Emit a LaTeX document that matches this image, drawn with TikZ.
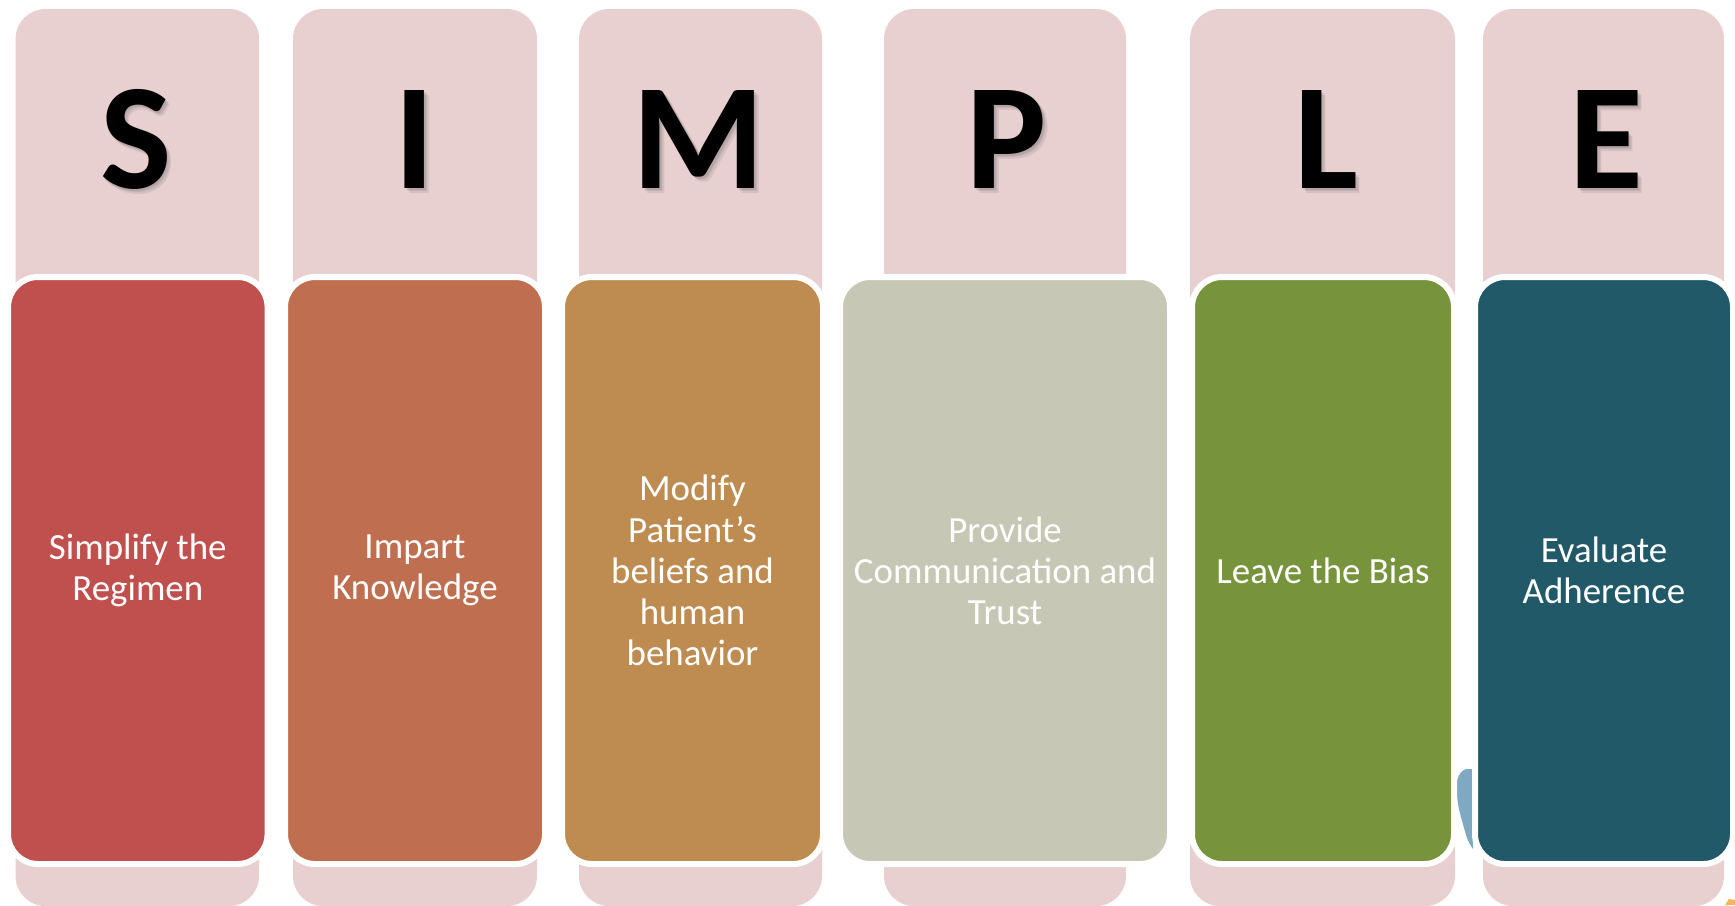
\documentclass[tikz,border=0pt]{standalone}
\usepackage{fontspec}
\setmainfont{Carlito}
\usepackage{tikz}

\definecolor{backpink}{HTML}{E8D0D1}
\definecolor{colS}{HTML}{C0504D}
\definecolor{colI}{HTML}{BF6F50}
\definecolor{colM}{HTML}{BE8B51}
\definecolor{colP}{HTML}{C6C7B4}
\definecolor{colL}{HTML}{77933C}
\definecolor{colE}{HTML}{215968}
\definecolor{clipblue}{HTML}{7FA8C3}
\definecolor{cliporange}{HTML}{F5B45C}

\begin{document}
\begin{tikzpicture}
    \tikzstyle{back column}=[rounded corners=0.3cm,fill=backpink,minimum height=8.97cm,inner sep=0pt]
    \tikzstyle{letter}=[anchor=base,inner sep=0pt,font=\fontsize{43}{43}\selectfont\bfseries]
    \tikzstyle{card}=[rounded corners=0.3cm,draw=white,line width=0.06cm,minimum height=5.87cm,inner sep=0pt,
        text=white,align=center,font=\fontsize{10.5}{11.7}\selectfont]

    \useasboundingbox[fill=white] (0,0) rectangle (17.35,-9.05);

    % Pink columns behind the cards
    \foreach \name / \x / \w in {S/1.373/2.435, I/4.15/2.44, M/7.005/2.43, P/10.05/2.42, L/13.225/2.65, E/16.035/2.41}
        \node[back column, minimum width=\w cm] (B-\name) at (\x,-4.575) {};

    % The big letters, with a soft shadow
    \foreach \name / \x in {S/1.36, I/4.15, M/6.99, P/10.07, L/13.26, E/16.06}
    {
        \foreach \dx / \dy in {0.015/0.02, 0.03/0.035, 0.045/0.05}
            \node[letter, text=black!70, opacity=0.12] at (\x+\dx,-1.88-\dy) {\name};
        \node[letter] (T-\name) at (\x,-1.88) {\name};
    }

    % bits of clip art peeking out at the edges
    \fill[clipblue] (14.66,-7.69) .. controls (14.57,-7.72) and (14.55,-7.85) .. (14.57,-7.95)
        .. controls (14.58,-8.1) and (14.62,-8.2) .. (14.66,-8.35)
        .. controls (14.68,-8.42) and (14.71,-8.46) .. (14.73,-8.49) -- (14.75,-7.69) -- cycle;
    \fill[cliporange] (17.25,-9.05) -- (17.29,-8.99) -- (17.35,-9.0) -- (17.35,-9.05) -- cycle;

    % Draw the coloured cards
    \foreach \name / \x / \w / \col / \txt in {
        S/1.378/2.595/colS/{Simplify the\\Regimen},
        I/4.15/2.6/colI/{Impart\\Knowledge},
        M/6.925/2.61/colM/{Modify\\Patient’s\\beliefs and\\human\\behavior},
        P/10.05/3.30/colP/{Provide\\Communication and\\Trust},
        L/13.23/2.62/colL/{Leave the Bias},
        E/16.04/2.58/colE/{Evaluate\\Adherence}}
        \node[card, fill=\col, minimum width=\w cm] (C-\name) at (\x,-5.705) {\txt};
\end{tikzpicture}
\end{document}
